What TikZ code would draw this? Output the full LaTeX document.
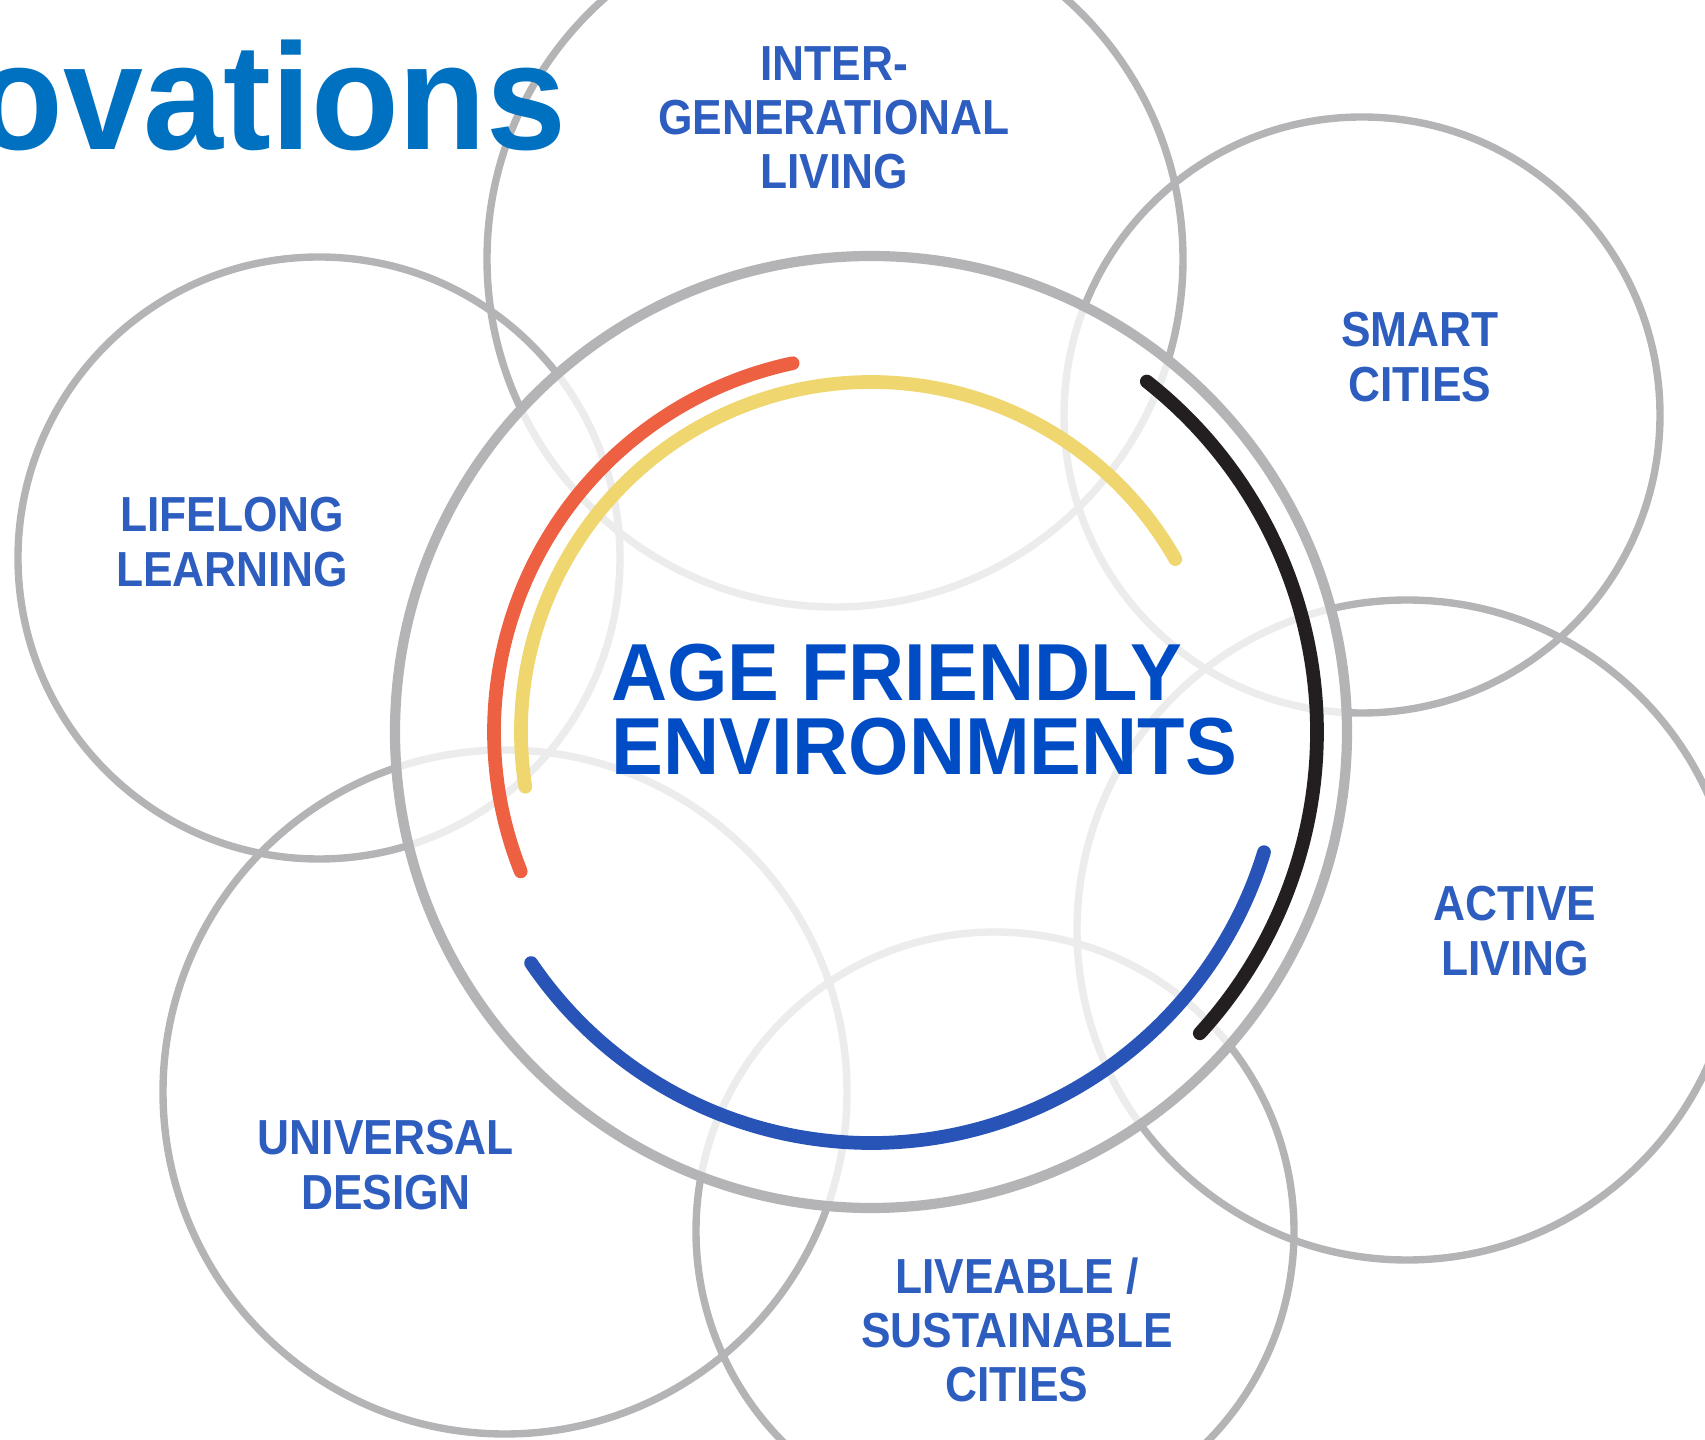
\documentclass[tikz,border=0pt]{standalone}
\usepackage{fontspec}
\setmainfont{Liberation Sans}
\newfontfamily\topicfont[FakeStretch=0.9]{Liberation Sans}
\newfontfamily\hubfont[FakeStretch=0.96]{Liberation Sans}
\newfontfamily\titlefont[FakeStretch=0.95]{Liberation Sans}
\definecolor{ringgray}{RGB}{180,180,182}
\definecolor{topicblue}{RGB}{45,93,190}
\definecolor{hubblue}{RGB}{0,76,196}
\definecolor{titleblue}{RGB}{0,112,192}
\definecolor{arcred}{RGB}{238,96,66}
\definecolor{arcyellow}{RGB}{240,214,110}
\definecolor{arcblack}{RGB}{35,31,32}
\definecolor{arcblue}{RGB}{40,84,184}

\begin{document}
\begin{tikzpicture}[x=0.01cm,y=-0.01cm,
	ring/.style={draw=ringgray,line width=2.1pt},
	hub/.style={draw=ringgray,line width=2.9pt,fill=white,fill opacity=0.75},
	band/.style={line width=3.9pt,line cap=round},
	topic/.style={text=topicblue,font=\topicfont\bfseries\fontsize{14}{15.4}\selectfont,align=center}]
	\useasboundingbox (0,0) rectangle (1705,1440);
	\clip (0,0) rectangle (1705,1440);
	\coordinate (hubc) at (871,732);
	% outer rings
	\draw[ring] (835,259) circle (348);
	\draw[ring] (1362,415) circle (298);
	\draw[ring] (319,558) circle (301);
	\draw[ring] (505,1092) circle (342);
	\draw[ring] (995,1231) circle (299);
	\draw[ring] (1407,930) circle (330);
	% central ring
	\draw[hub] (hubc) circle (476);
	\draw[band,draw=arcyellow] ([shift={(-189:350)}]hubc) arc[start angle=-189,end angle=-29.6,radius=350];
	\draw[band,draw=arcred] ([shift={(-102:377)}]hubc) arc[start angle=-102,end angle=-201.7,radius=377];
	\draw[band,draw=arcblack] ([shift={(-51.8:446)}]hubc) arc[start angle=-51.8,end angle=42.5,radius=446];
	\draw[band,draw=arcblue] ([shift={(-214.2:411)}]hubc) arc[start angle=-214.2,end angle=-343,radius=411];
	% texts
	\node[anchor=base east,text=titleblue,font=\titlefont\bfseries\fontsize{43}{50}\selectfont] (title) at (579,150) {ovations};
	\node[anchor=west,text=hubblue,align=left,font=\hubfont\bfseries\fontsize{23}{21}\selectfont] (hub) at (599,710) {AGE FRIENDLY\\ENVIRONMENTS};
	\node[topic] (intergen) at (834,118) {INTER-\\GENERATIONAL\\LIVING};
	\node[topic] (smart) at (1420,357) {SMART\\CITIES};
	\node[topic] (lifelong) at (232,542) {LIFELONG\\LEARNING};
	\node[topic] (active) at (1515,931) {ACTIVE\\LIVING};
	\node[topic] (universal) at (386,1165) {UNIVERSAL\\DESIGN};
	\node[topic] (liveable) at (1017,1330) {LIVEABLE /\\SUSTAINABLE\\CITIES};
\end{tikzpicture}
\end{document}
